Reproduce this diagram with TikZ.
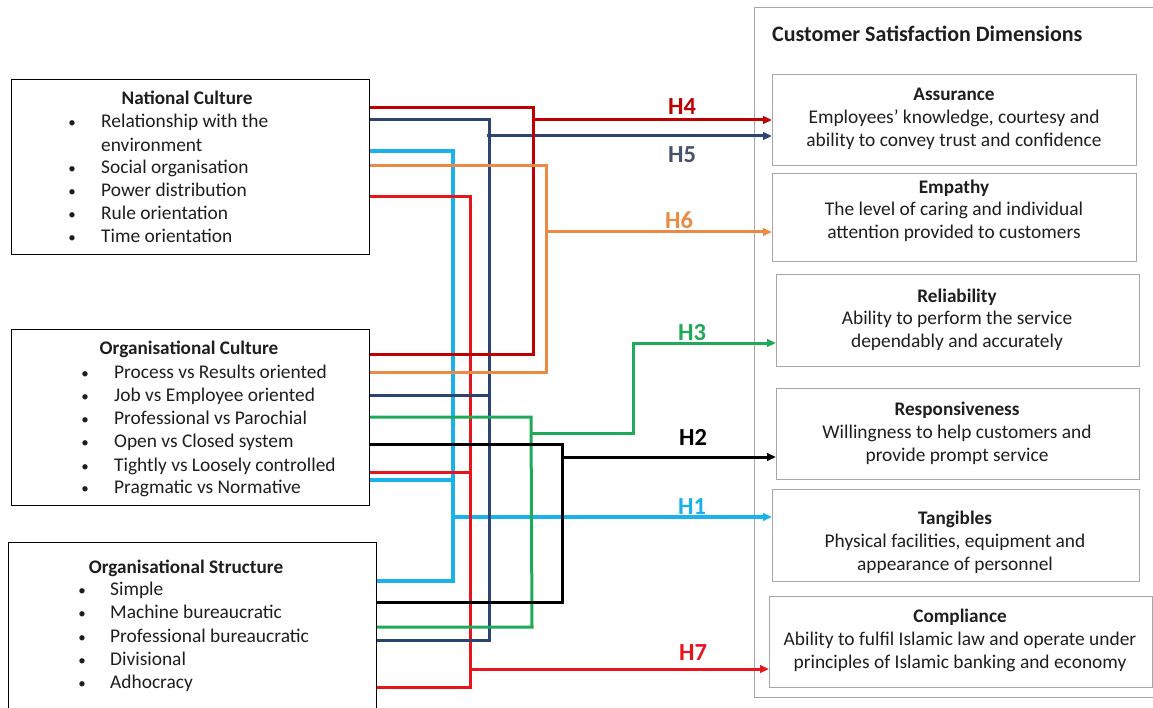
\documentclass[tikz,border=0pt]{standalone}
\usepackage{fontspec}
\setmainfont{Carlito}
\usetikzlibrary{arrows.meta}
\definecolor{cdred}{HTML}{C00000}
\definecolor{cnavy}{HTML}{2B4472}
\definecolor{cslate}{HTML}{44546A}
\definecolor{cblue}{HTML}{1AB2EA}
\definecolor{corange}{HTML}{EB8A44}
\definecolor{cred}{HTML}{E8141B}
\definecolor{cgreen}{HTML}{1EAA58}
\definecolor{cgray}{HTML}{A6A6A6}
\definecolor{ctext}{HTML}{1E1E1E}
\begin{document}
\begin{tikzpicture}[x=1pt,y=-1pt,
  lbox/.style={draw=black, line width=1pt, anchor=north west, inner sep=0pt},
  rbox/.style={draw=cgray, line width=1.2pt, anchor=north west, inner sep=0pt},
  body/.style={font=\fontsize{19.4}{22}\selectfont, text=ctext, inner sep=0pt, anchor=base west},
  bul/.style={font=\fontsize{15}{18}\selectfont, text=ctext, inner sep=0pt, anchor=base},
  bodyc/.style={font=\fontsize{19.4}{22}\selectfont, text=ctext, inner sep=0pt, anchor=base},
  ttl/.style={font=\bfseries\fontsize{19.2}{22}\selectfont, text=ctext, inner sep=0pt, anchor=base},
  hlab/.style={font=\bfseries\fontsize{24.5}{26}\selectfont, inner sep=0pt},
  conn/.style={line width=3pt},
  arr/.style={-{Triangle[length=9pt,width=7.5pt]}}
]
\useasboundingbox (0,0) rectangle (1153,708);

% ---------- left boxes ----------
\node[lbox, minimum width=358pt, minimum height=175pt] (nc) at (11,79) {};
\node[lbox, minimum width=358pt, minimum height=176pt] (oc) at (11,329) {};
\node[lbox, minimum width=368pt, minimum height=180pt] (os) at (8,542) {};

\node[ttl] (nct) at (187,105) {National Culture};
\foreach \n/\t/\y in {1/Relationship with the/128, 3/Social organisation/174, 4/Power distribution/197, 5/Rule orientation/220, 6/Time orientation/243}{
  \node[bul] (ncb\n) at (72,\y) {\textbullet};
  \node[body] (ncl\n) at (101,\y) {\t};
}
\node[body] (ncl2) at (101,152) {environment};

\node[ttl] (oct) at (189,354) {Organisational Culture};
\foreach \n/\t/\y in {1/Process vs Results oriented/378, 2/Job vs Employee oriented/401, 3/Professional vs Parochial/424, 4/Open vs Closed system/447, 5/Tightly vs Loosely controlled/471, 6/Pragmatic vs Normative/493}{
  \node[bul] (ocb\n) at (85,\y) {\textbullet};
  \node[body] (ocl\n) at (114,\y) {\t};
}

\node[ttl] (ost) at (186,573) {Organisational Structure};
\foreach \n/\t/\y in {1/Simple/595, 2/Machine bureaucratic/618, 3/Professional bureaucratic/642, 4/Divisional/665, 5/Adhocracy/688}{
  \node[bul] (osb\n) at (82,\y) {\textbullet};
  \node[body] (osl\n) at (110,\y) {\t};
}

% ---------- right boxes ----------
\node[rbox, minimum width=410pt, minimum height=690pt] (csd) at (754,7) {};
\node[font=\bfseries\fontsize{22}{24}\selectfont, text=ctext, inner sep=0pt, anchor=base west] (csdt) at (772,42) {Customer Satisfaction Dimensions};

\node[rbox, minimum width=364pt, minimum height=91pt] (assur) at (772,74) {};
\node[ttl] (assurt) at (954,101) {Assurance};
\node[bodyc] (assur1) at (954,124) {Employees’ knowledge, courtesy and};
\node[bodyc] (assur2) at (954,147) {ability to convey trust and confidence};

\node[rbox, minimum width=364pt, minimum height=88pt] (emp) at (772,173) {};
\node[ttl] (empt) at (954,194) {Empathy};
\node[bodyc] (emp1) at (954,216) {The level of caring and individual};
\node[bodyc] (emp2) at (954,239) {attention provided to customers};

\node[rbox, minimum width=363pt, minimum height=92pt] (rel) at (776,274) {};
\node[ttl] (relt) at (957,303) {Reliability};
\node[bodyc] (rel1) at (957,325) {Ability to perform the service};
\node[bodyc] (rel2) at (957,348) {dependably and accurately};

\node[rbox, minimum width=363pt, minimum height=91pt] (resp) at (776,388) {};
\node[ttl] (respt) at (957,415) {Responsiveness};
\node[bodyc] (resp1) at (957,438) {Willingness to help customers and};
\node[bodyc] (resp2) at (957,461) {provide prompt service};

\node[rbox, minimum width=367pt, minimum height=92pt] (tang) at (772,489) {};
\node[ttl] (tangt) at (955,524) {Tangibles};
\node[bodyc] (tang1) at (955,547) {Physical facilities, equipment and};
\node[bodyc] (tang2) at (955,570) {appearance of personnel};

\node[rbox, minimum width=383pt, minimum height=91pt] (comp) at (769,596) {};
\node[ttl] (compt) at (960,622) {Compliance};
\node[bodyc] (comp1) at (960,645) {Ability to fulfil Islamic law and operate under};
\node[bodyc] (comp2) at (960,668) {principles of Islamic banking and economy};

% ---------- junction coordinates ----------
\coordinate (a1) at (533,108); \coordinate (a2) at (533,354); \coordinate (h4s) at (533,120);
\coordinate (n1) at (489,120); \coordinate (n2) at (489,640); \coordinate (n3) at (489,395); \coordinate (h5s) at (487,136);
\coordinate (b1) at (453,151); \coordinate (b2) at (453,581); \coordinate (b3) at (453,480); \coordinate (h1s) at (452,517);
\coordinate (o1) at (546,166); \coordinate (o2) at (546,372); \coordinate (h6s) at (548,232);
\coordinate (r1) at (470,197); \coordinate (r2) at (470,687); \coordinate (r3) at (470,472); \coordinate (h7s) at (470,669);
\coordinate (g1) at (531,417); \coordinate (g2) at (532,627); \coordinate (g3) at (531,433); \coordinate (g4) at (633,433); \coordinate (g5) at (633,343);
\coordinate (k1) at (562,444); \coordinate (k2) at (562,602); \coordinate (k3) at (562,457);

% ---------- connectors ----------
\draw[conn, cblue, line width=3.8pt] (nc.east |- b1) -- (b1) -- (b2) -- (os.east |- b2);
\draw[conn, cblue, line width=3.8pt] (oc.east |- b3) -- (b3);
\draw[conn, cblue, line width=3.8pt, arr] (h1s) -- (tang.west |- h1s);

\draw[conn, cred] (nc.east |- r1) -- (r1) -- (r2) -- (os.east |- r2);
\draw[conn, cred] (oc.east |- r3) -- (r3);
\draw[conn, cred, arr] (h7s) -- (comp.west |- h7s);

\draw[conn, cnavy] (nc.east |- n1) -- (n1) -- (n2) -- (os.east |- n2);
\draw[conn, cnavy] (oc.east |- n3) -- (n3);
\draw[conn, cnavy, arr] (h5s) -- (assur.west |- h5s);

\draw[conn, cdred] (nc.east |- a1) -- (a1) -- (a2) -- (oc.east |- a2);
\draw[conn, cdred, arr] (h4s) -- (assur.west |- h4s);

\draw[conn, corange] (nc.east |- o1) -- (o1) -- (o2) -- (oc.east |- o2);
\draw[conn, corange, arr] (h6s) -- (emp.west |- h6s);

\draw[conn, cgreen] (oc.east |- g1) -- (g1) -- (g2) -- (os.east |- g2);
\draw[conn, cgreen, arr] (g3) -- (g4) -- (g5) -- (rel.west |- g5);

\draw[conn, black] (oc.east |- k1) -- (k1) -- (k2) -- (os.east |- k2);
\draw[conn, black, arr] (k3) -- (resp.west |- k3);

% ---------- hypothesis labels ----------
\node[hlab, text=cdred] (lh4) at (682,107) {H4};
\node[hlab, text=cslate] (lh5) at (682,155) {H5};
\node[hlab, text=corange] (lh6) at (679,220) {H6};
\node[hlab, text=cgreen] (lh3) at (692,333) {H3};
\node[hlab, text=black] (lh2) at (693,437) {H2};
\node[hlab, text=cblue] (lh1) at (692,507) {H1};
\node[hlab, text=cred] (lh7) at (693,653) {H7};
\end{tikzpicture}
\end{document}
